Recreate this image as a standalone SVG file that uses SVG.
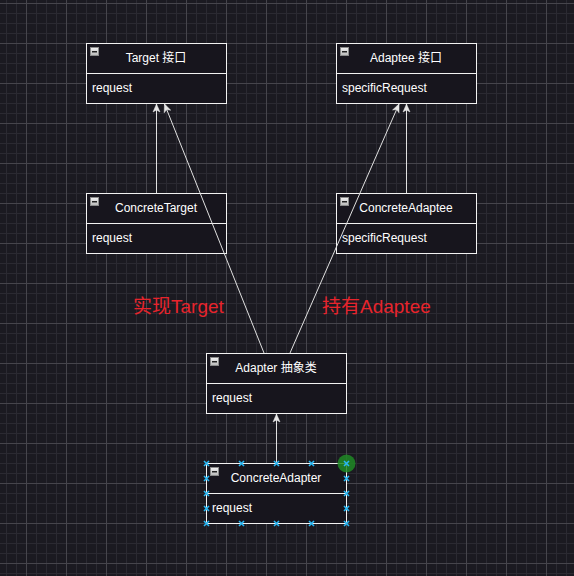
<svg xmlns="http://www.w3.org/2000/svg" width="574" height="576" viewBox="0 0 574 576">
<defs>
<pattern id="grid" patternUnits="userSpaceOnUse" x="26" y="3" width="40" height="40">
<rect x="10" y="0" width="1" height="40" fill="#2b2a32"/>
<rect x="20" y="0" width="1" height="40" fill="#2b2a32"/>
<rect x="30" y="0" width="1" height="40" fill="#2b2a32"/>
<rect x="0" y="10" width="40" height="1" fill="#2b2a32"/>
<rect x="0" y="20" width="40" height="1" fill="#2b2a32"/>
<rect x="0" y="30" width="40" height="1" fill="#2b2a32"/>
<rect x="0" y="0" width="1" height="40" fill="#46454c"/>
<rect x="0" y="0" width="40" height="1" fill="#46454c"/>
</pattern>
<linearGradient id="ig" x1="0" y1="0" x2="0" y2="1">
<stop offset="0" stop-color="#f2f2f2"/>
<stop offset="1" stop-color="#b8b8b8"/>
</linearGradient>
<marker id="arr" markerUnits="userSpaceOnUse" markerWidth="10" markerHeight="10" viewBox="0 0 10 10" refX="9" refY="5" orient="auto">
<path d="M9,5 L1,1.5 L3,5 L1,8.5 Z" fill="#e8e8e8" stroke="#e8e8e8" stroke-width="0.5"/>
</marker>
<g id="icon"><rect x="0.5" y="0.5" width="8" height="8" fill="url(#ig)" stroke="#8a8a8a" stroke-width="1"/><rect x="2" y="4" width="5" height="1.5" fill="#222"/></g>
<path id="hx" d="M-2.5,-2.5 L2.5,2.5 M-2.5,2.5 L2.5,-2.5" stroke="#29b6f2" stroke-width="1.6"/>
</defs>
<style>
.box{fill:#17151d;stroke:#f2f2f2;stroke-width:1}
.div{stroke:#f2f2f2;stroke-width:1}
.hd{font-family:"Liberation Sans","Noto Sans CJK SC",sans-serif;font-size:12px;fill:#ffffff;text-anchor:middle}
.bd{font-family:"Liberation Sans","Noto Sans CJK SC",sans-serif;font-size:12px;fill:#ffffff}
.lbl{font-family:"Liberation Sans","Noto Sans CJK SC",sans-serif;font-size:19px;fill:#e8242c}
.edge{fill:none;stroke:#e0e0e0;stroke-width:1;marker-end:url(#arr)}
</style>
<rect width="574" height="576" fill="#1b1a21"/>
<rect width="574" height="576" fill="url(#grid)"/>

<g id="target">
<rect class="box" x="86.5" y="43.5" width="140" height="60"/>
<line class="div" x1="86.5" y1="73.5" x2="226.5" y2="73.5"/>
<use href="#icon" x="90" y="47"/>
<text class="hd" x="156" y="62">Target 接口</text>
<text class="bd" x="92" y="92">request</text>
</g>

<g id="adaptee">
<rect class="box" x="336.5" y="43.5" width="140" height="60"/>
<line class="div" x1="336.5" y1="73.5" x2="476.5" y2="73.5"/>
<use href="#icon" x="340" y="47"/>
<text class="hd" x="406" y="62">Adaptee 接口</text>
<text class="bd" x="342" y="92">specificRequest</text>
</g>

<g id="concreteTarget">
<rect class="box" x="86.5" y="193.5" width="140" height="60"/>
<line class="div" x1="86.5" y1="223.5" x2="226.5" y2="223.5"/>
<use href="#icon" x="90" y="197"/>
<text class="hd" x="156" y="212">ConcreteTarget</text>
<text class="bd" x="92" y="242">request</text>
</g>

<g id="concreteAdaptee">
<rect class="box" x="336.5" y="193.5" width="140" height="60"/>
<line class="div" x1="336.5" y1="223.5" x2="476.5" y2="223.5"/>
<use href="#icon" x="340" y="197"/>
<text class="hd" x="406" y="212">ConcreteAdaptee</text>
<text class="bd" x="342" y="242">specificRequest</text>
</g>

<g id="adapter">
<rect class="box" x="206.5" y="353.5" width="140" height="60"/>
<line class="div" x1="206.5" y1="383.5" x2="346.5" y2="383.5"/>
<use href="#icon" x="210" y="357"/>
<text class="hd" x="276" y="372">Adapter 抽象类</text>
<text class="bd" x="212" y="402">request</text>
</g>

<g id="concreteAdapter">
<rect class="box" x="206.5" y="463.5" width="140" height="60"/>
<line class="div" x1="206.5" y1="493.5" x2="346.5" y2="493.5"/>
<use href="#icon" x="210" y="467"/>
<text class="hd" x="276" y="482">ConcreteAdapter</text>
<text class="bd" x="212" y="512">request</text>
</g>

<g id="connectors">
<line class="edge" x1="156.5" y1="193" x2="156.5" y2="104"/>
<line class="edge" x1="406.5" y1="193" x2="406.5" y2="104"/>
<line class="edge" x1="264" y1="353" x2="164.5" y2="104"/>
<line class="edge" x1="290" y1="353" x2="399" y2="104"/>
<line class="edge" x1="276.5" y1="463" x2="276.5" y2="414"/>
</g>

<g id="labels">
<text class="lbl" x="133" y="313">实现Target</text>
<text class="lbl" x="322" y="313">持有Adaptee</text>
</g>

<g id="selection">
<circle cx="346.5" cy="463.5" r="9" fill="#1f8a24" fill-opacity="0.85"/>
<use href="#hx" x="206.5" y="463.5"/><use href="#hx" x="241.5" y="463.5"/><use href="#hx" x="276.5" y="463.5"/><use href="#hx" x="311.5" y="463.5"/><use href="#hx" x="346.5" y="463.5"/>
<use href="#hx" x="206.5" y="478.5"/><use href="#hx" x="346.5" y="478.5"/>
<use href="#hx" x="206.5" y="493.5"/><use href="#hx" x="346.5" y="493.5"/>
<use href="#hx" x="206.5" y="508.5"/><use href="#hx" x="346.5" y="508.5"/>
<use href="#hx" x="206.5" y="523.5"/><use href="#hx" x="241.5" y="523.5"/><use href="#hx" x="276.5" y="523.5"/><use href="#hx" x="311.5" y="523.5"/><use href="#hx" x="346.5" y="523.5"/>
</g>
</svg>
